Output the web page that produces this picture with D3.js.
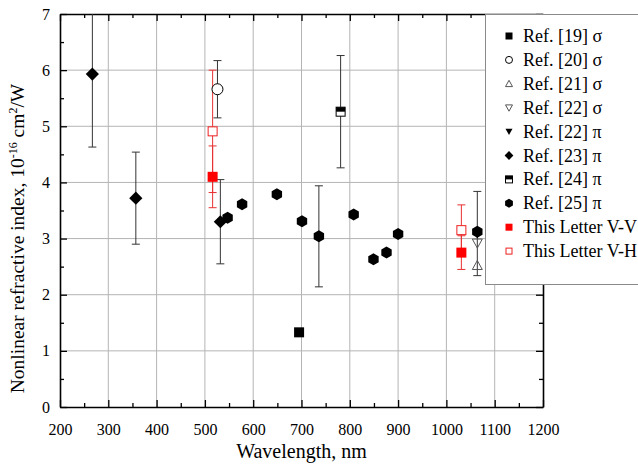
<!DOCTYPE html>
<html><head><meta charset="utf-8">
<script src="https://cdn.jsdelivr.net/npm/d3@7"></script>
<style>
body{margin:0;background:#fff;}
svg text{font-family:"Liberation Serif","Times New Roman",Times,serif !important;}
</style></head>
<body><svg id="c" width="638" height="464"></svg>
<script>
// ---- data ----
const xTicks = [200,300,400,500,600,700,800,900,1000,1100,1200];
const yTicks = [0,1,2,3,4,5,6,7];
const seriesNames = ["Ref. [19] σ","Ref. [20] σ","Ref. [21] σ","Ref. [22] σ","Ref. [22] π","Ref. [23] π","Ref. [24] π","Ref. [25] π","This Letter V-V","This Letter V-H"];
// each point: [wavelength, n2, errMinus, errPlus]
const ref19s = [[695,1.33,0,0]];
const ref20s = [[526,5.66,0.51,0.51]];
const ref21s = [[1064,2.52,0,0]];
const ref22s = [[1064,2.92,0,0]];
const ref22p = [[1064,3.09,0.75,0.75]];
const ref23p = [[267,5.93,1.30,1.30],[357,3.72,0.82,0.82],[532,3.30,0.75,0.75]];
const ref24p = [[781,5.26,1.0,1.0]];
const ref25p = [[547,3.37,0,0],[577,3.61,0,0],[649,3.79,0,0],[701,3.31,0,0],[736,3.04,0.90,0.90],[808,3.43,0,0],[849,2.63,0,0],[876,2.75,0,0],[900,3.08,0,0],[1064,3.12,0,0]];
const thisVV = [[516,4.10,0.55,0.55],[1031,2.75,0.30,0.30]];
const thisVH = [[516,4.91,1.09,1.09],[1031,3.15,0.45,0.45]];

const FONT='"Liberation Serif","Times New Roman",Times,serif';
const W=638,H=464;
const m={l:60,r:543,t:14,b:407};
const x=d3.scaleLinear().domain([200,1200]).range([m.l,m.r]);
const y=d3.scaleLinear().domain([0,7]).range([m.b,m.t]);
const svg=d3.select("#c").attr("font-family",FONT);

svg.append("defs").append("clipPath").attr("id","clip").append("rect")
  .attr("x",m.l).attr("y",m.t).attr("width",m.r-m.l).attr("height",m.b-m.t);

// grid
const grid=svg.append("g").attr("stroke","#b4b4b4").attr("stroke-width",1);
xTicks.slice(1,-1).forEach(v=>grid.append("line").attr("x1",x(v)).attr("x2",x(v)).attr("y1",m.t).attr("y2",m.b));
yTicks.slice(1,-1).forEach(v=>grid.append("line").attr("x1",m.l).attr("x2",m.r).attr("y1",y(v)).attr("y2",y(v)));

// axes
const minorX=d3.range(250,1200,100), minorY=d3.range(0.5,7,1);
function styleAxis(g){g.attr("font-family",FONT);g.select(".domain").attr("stroke","#000").attr("stroke-width",1.6);g.selectAll(".tick line").attr("stroke","#000").attr("stroke-width",1.3);}
const fontTick="16px";
const fmt=d3.format("d");
svg.append("g").attr("transform",`translate(0,${m.b})`)
  .call(d3.axisBottom(x).tickValues(xTicks).tickFormat(fmt).tickSize(-7).tickPadding(17).tickSizeOuter(0))
  .call(styleAxis).call(g=>g.selectAll("text").attr("font-size",fontTick).attr("fill","#000"));
svg.append("g").attr("transform",`translate(0,${m.b})`)
  .call(d3.axisBottom(x).tickValues(minorX).tickSize(-4).tickFormat("").tickSizeOuter(0)).call(styleAxis).call(g=>g.select(".domain").remove());
svg.append("g").attr("transform",`translate(0,${m.t})`)
  .call(d3.axisTop(x).tickValues(xTicks).tickSize(-7).tickFormat("").tickSizeOuter(0)).call(styleAxis);
svg.append("g").attr("transform",`translate(0,${m.t})`)
  .call(d3.axisTop(x).tickValues(minorX).tickSize(-4).tickFormat("").tickSizeOuter(0)).call(styleAxis).call(g=>g.select(".domain").remove());
svg.append("g").attr("transform",`translate(${m.l},0)`)
  .call(d3.axisLeft(y).tickValues(yTicks).tickFormat(fmt).tickSize(-7).tickPadding(10).tickSizeOuter(0))
  .call(styleAxis).call(g=>g.selectAll("text").attr("font-size",fontTick).attr("fill","#000"));
svg.append("g").attr("transform",`translate(${m.l},0)`)
  .call(d3.axisLeft(y).tickValues(minorY).tickSize(-4).tickFormat("").tickSizeOuter(0)).call(styleAxis).call(g=>g.select(".domain").remove());
svg.append("g").attr("transform",`translate(${m.r},0)`)
  .call(d3.axisRight(y).tickValues(yTicks).tickSize(-7).tickFormat("").tickSizeOuter(0)).call(styleAxis);
svg.append("g").attr("transform",`translate(${m.r},0)`)
  .call(d3.axisRight(y).tickValues(minorY).tickSize(-4).tickFormat("").tickSizeOuter(0)).call(styleAxis).call(g=>g.select(".domain").remove());

// axis titles
svg.append("text").attr("x",(m.l+m.r)/2).attr("y",458).attr("text-anchor","middle").attr("font-size","20px").text("Wavelength, nm");
const yl=svg.append("text").attr("transform",`translate(24,${(m.t+m.b)/2+28}) rotate(-90)`).attr("text-anchor","middle").attr("font-size","19.5px");
yl.append("tspan").text("Nonlinear refractive index, 10");
yl.append("tspan").attr("font-size","12px").attr("dy","-7").text("-16");
yl.append("tspan").attr("dy","7").text(" cm");
yl.append("tspan").attr("font-size","12px").attr("dy","-7").text("2");
yl.append("tspan").attr("dy","7").text("/W");

// marker drawers
function marker(g,type,cx,cy,s){
  const h=s/2;
  if(type==="sqF") g.append("rect").attr("x",cx-h).attr("y",cy-h).attr("width",s).attr("height",s).attr("fill","#000");
  else if(type==="circO") g.append("circle").attr("cx",cx).attr("cy",cy).attr("r",h).attr("fill","#fff").attr("stroke","#000").attr("stroke-width",1);
  else if(type==="triUO") g.append("path").attr("d",`M${cx},${cy-h}L${cx+h},${cy+h*0.8}L${cx-h},${cy+h*0.8}Z`).attr("fill","none").attr("stroke","#555").attr("stroke-width",1);
  else if(type==="triDO") g.append("path").attr("d",`M${cx},${cy+h}L${cx+h},${cy-h*0.8}L${cx-h},${cy-h*0.8}Z`).attr("fill","none").attr("stroke","#555").attr("stroke-width",1);
  else if(type==="triDF") g.append("path").attr("d",`M${cx},${cy+h}L${cx+h},${cy-h*0.8}L${cx-h},${cy-h*0.8}Z`).attr("fill","#000");
  else if(type==="dia") g.append("path").attr("d",`M${cx},${cy-h*1.1}L${cx+h*1.1},${cy}L${cx},${cy+h*1.1}L${cx-h*1.1},${cy}Z`).attr("fill","#000");
  else if(type==="half"){ g.append("rect").attr("x",cx-h).attr("y",cy-h).attr("width",s).attr("height",s).attr("fill","#fff").attr("stroke","#000").attr("stroke-width",1);
    g.append("rect").attr("x",cx-h).attr("y",cy-h).attr("width",s).attr("height",h).attr("fill","#000");}
  else if(type==="hex"){ const pts=d3.range(6).map(i=>{const a=Math.PI/6+i*Math.PI/3;return [cx+h*Math.cos(a),cy+h*Math.sin(a)];});
    g.append("path").attr("d","M"+pts.join("L")+"Z").attr("fill","#000");}
  else if(type==="sqR") g.append("rect").attr("x",cx-h).attr("y",cy-h).attr("width",s).attr("height",s).attr("fill","#ff0000");
  else if(type==="sqRO") g.append("rect").attr("x",cx-h+0.5).attr("y",cy-h+0.5).attr("width",s-1).attr("height",s-1).attr("fill","#fff").attr("stroke","#ee2020").attr("stroke-width",1);
}
const series=[
  {data:ref19s,type:"sqF",size:10,ec:"#333"},
  {data:ref20s,type:"circO",size:11,ec:"#333"},
  {data:ref21s,type:"triUO",size:10,ec:"#333"},
  {data:ref22s,type:"triDO",size:10,ec:"#333"},
  {data:ref22p,type:"triDF",size:10,ec:"#333"},
  {data:ref23p,type:"dia",size:12,ec:"#333"},
  {data:ref24p,type:"half",size:9,ec:"#333"},
  {data:ref25p,type:"hex",size:12,ec:"#333"},
  {data:thisVV,type:"sqR",size:10,ec:"#e83030"},
  {data:thisVH,type:"sqRO",size:10,ec:"#e83030"}
];
const plot=svg.append("g").attr("clip-path","url(#clip)");
// error bars first
series.forEach(s=>s.data.forEach(d=>{
  if(d[2]||d[3]){
    const cx=x(d[0]),y0=y(d[1]-d[2]),y1=y(d[1]+d[3]);
    const eg=plot.append("g").attr("stroke",s.ec).attr("stroke-width",1).attr("fill","none");
    eg.append("line").attr("x1",cx).attr("x2",cx).attr("y1",y0).attr("y2",y1);
    eg.append("line").attr("x1",cx-4).attr("x2",cx+4).attr("y1",y0).attr("y2",y0);
    eg.append("line").attr("x1",cx-4).attr("x2",cx+4).attr("y1",y1).attr("y2",y1);
  }
}));
const drawOrder=[0,1,2,3,4,5,6,7,9,8];
drawOrder.forEach(i=>{const s=series[i];s.data.forEach(d=>marker(plot,s.type,x(d[0]),y(d[1]),s.size));});

// legend
const lg=svg.append("g");
lg.append("rect").attr("x",485.5).attr("y",14.5).attr("width",170).attr("height",270).attr("fill","#fff").attr("stroke","#8a8a8a").attr("stroke-width",1);
seriesNames.forEach((n,i)=>{
  const yy=36+i*23.9;
  marker(lg,series[i].type,509,yy,series[i].type==="dia"?8:(series[i].type==="hex"?9:7));
  lg.append("text").attr("x",523).attr("y",yy+6).attr("font-size","18px").attr("fill","#000").text(n);
});
</script></body></html>
